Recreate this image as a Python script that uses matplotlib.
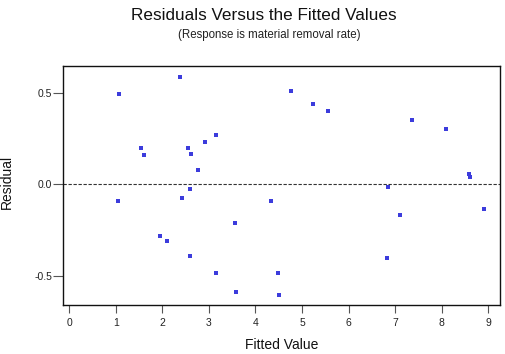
import matplotlib
matplotlib.use("Agg")
import matplotlib.pyplot as plt

# fitted values and residuals
fitted = [1.07, 2.38, 1.55, 1.60, 2.55, 2.61, 2.92, 3.15, 2.77, 1.05, 2.59,
          2.42, 3.56, 4.33, 1.95, 2.11, 2.60, 3.15, 4.48, 3.58, 4.50, 4.76,
          5.24, 5.56, 7.36, 8.10, 8.59, 8.61, 6.85, 7.11, 8.90, 6.82]
residuals = [0.492, 0.585, 0.197, 0.160, 0.198, 0.164, 0.230, 0.266, 0.075,
             -0.091, -0.029, -0.075, -0.211, -0.091, -0.284, -0.312, -0.392,
             -0.485, -0.487, -0.588, -0.607, 0.508, 0.435, 0.399, 0.350,
             0.302, 0.055, 0.038, -0.015, -0.171, -0.135, -0.403]

x_ticks = [0, 1, 2, 3, 4, 5, 6, 7, 8, 9]
y_ticks = [-0.5, 0.0, 0.5]
y_tick_labels = ["-0.5", "0.0", "0.5"]

plt.rcParams['font.family'] = ['Liberation Sans', 'DejaVu Sans']

fig = plt.figure(figsize=(5.06, 3.54), dpi=100)
ax = fig.add_axes([0.1245, 0.1384, 0.8646, 0.675])

ax.scatter(fitted, residuals, marker='s', s=7, color='#3c3cdc', linewidths=0)
ax.axhline(0, color='#333333', linestyle='--', linewidth=0.8, dashes=(3, 1.5))

ax.set_xlim(-0.13, 9.26)
ax.set_ylim(-0.661, 0.645)
ax.set_xticks(x_ticks)
ax.set_yticks(y_ticks)
ax.set_yticklabels(y_tick_labels)
ax.tick_params(axis='both', labelsize=7.5, width=0.8,
               color='#555555', labelcolor='#222222')
ax.tick_params(axis='x', length=5.5, pad=3.5)
ax.tick_params(axis='y', length=7, pad=0.8)

for sp in ax.spines.values():
    sp.set_linewidth(1.0)
    sp.set_color('#111111')

ax.set_xlabel('Fitted Value', fontsize=10, color='#111111', labelpad=7.5)
ax.set_ylabel('Residual', fontsize=10, color='#111111')
ax.yaxis.set_label_coords(-0.112, 0.515)

fig.text(0.5217, 0.957, 'Residuals Versus the Fitted Values', ha='center',
         va='center', fontsize=12.3, color='#111111')
fig.text(0.5326, 0.901, '(Response is material removal rate)', ha='center',
         va='center', fontsize=8.3, color='#222222')

fig.savefig('out.png', dpi=100)
